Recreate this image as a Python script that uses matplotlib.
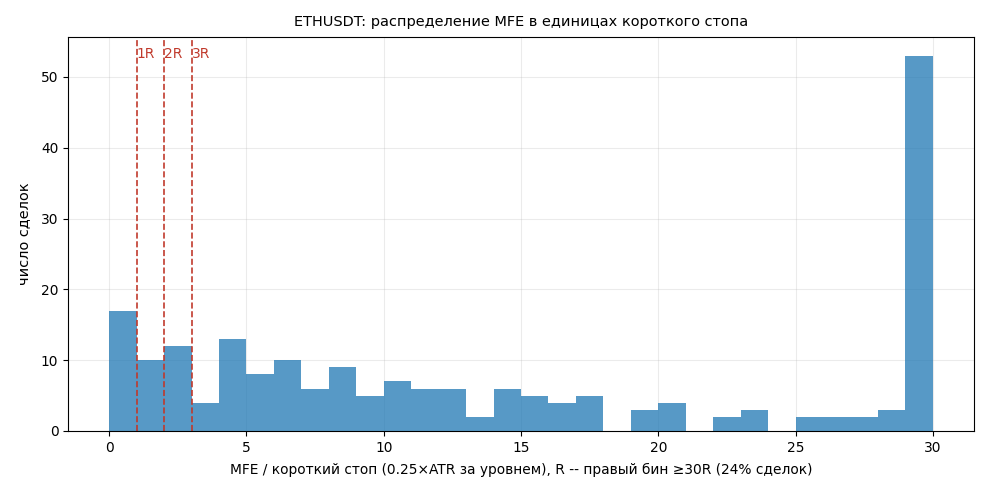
import matplotlib
matplotlib.use("Agg")
import matplotlib.pyplot as plt
import numpy as np

bin_left = list(range(0, 30))
counts = [17, 10, 12, 4, 13, 8, 10, 6, 9, 5,
          7, 6, 6, 2, 6, 5, 4, 5, 0, 3,
          4, 0, 2, 3, 0, 2, 2, 2, 3, 53]
r_levels = [1, 2, 3]
r_labels = ["1R", "2R", "3R"]

fig, ax = plt.subplots(figsize=(10, 5), dpi=99)
edges = np.arange(0, 31)
ax.hist(bin_left, bins=edges, weights=counts, color="#1f77b4", alpha=0.75)
for v, lab in zip(r_levels, r_labels):
    ax.axvline(v, color="#c0392b", linestyle="--", linewidth=1.2)
    ax.text(v, 0.975, lab, color="#c0392b", fontsize=10,
            transform=ax.get_xaxis_transform(), va="top", ha="left")
ax.set_title("ETHUSDT: распределение MFE в единицах короткого стопа", fontsize=10.5, pad=8)
ax.set_xlabel("MFE / короткий стоп (0.25×ATR за уровнем), R -- правый бин ≥30R (24% сделок)",
              fontsize=10, labelpad=6)
ax.set_ylabel("число сделок", fontsize=10.5, labelpad=7)
ax.grid(True, alpha=0.25)
ax.set_axisbelow(True)
fig.subplots_adjust(left=0.0687, right=0.9838, top=0.9253, bottom=0.1293)
fig.savefig("out.png", dpi=99)
